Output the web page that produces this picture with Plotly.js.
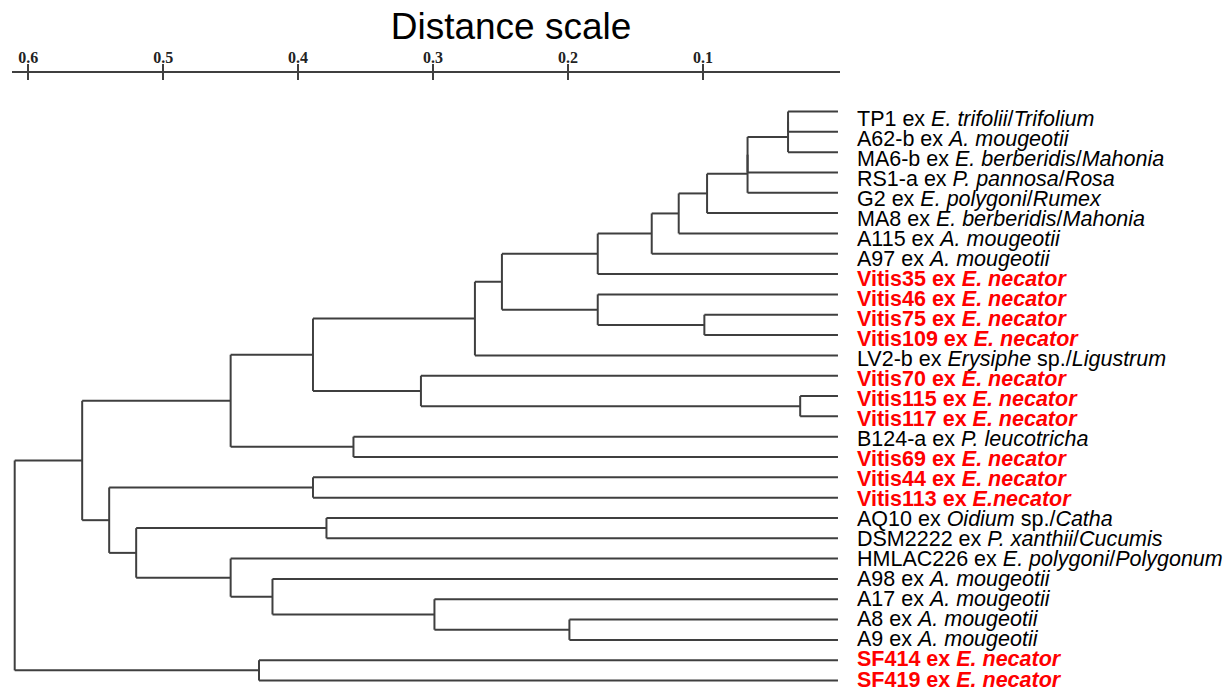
<!DOCTYPE html>
<html>
<head>
<meta charset="utf-8">
<script src="https://cdn.plot.ly/plotly-3.0.1.min.js"></script>
<style>
  html, body { margin: 0; padding: 0; background: #fff; }
  #chart { width: 1225px; height: 689px; }
</style>
</head>
<body>
<div id="chart"></div>
<script>
// ---- Data ----
const leafNames = [
  "TP1 ex <i>E. trifolii</i>/<i>Trifolium</i>",
  "A62-b ex <i>A. mougeotii</i>",
  "MA6-b ex <i>E. berberidis</i>/<i>Mahonia</i>",
  "RS1-a ex <i>P. pannosa</i>/<i>Rosa</i>",
  "G2 ex <i>E. polygoni</i>/<i>Rumex</i>",
  "MA8 ex <i>E. berberidis</i>/<i>Mahonia</i>",
  "A115 ex <i>A. mougeotii</i>",
  "A97 ex <i>A. mougeotii</i>",
  "Vitis35 ex <i>E. necator</i>",
  "Vitis46 ex <i>E. necator</i>",
  "Vitis75 ex <i>E. necator</i>",
  "Vitis109 ex <i>E. necator</i>",
  "LV2-b ex <i>Erysiphe</i> sp./<i>Ligustrum</i>",
  "Vitis70 ex <i>E. necator</i>",
  "Vitis115 ex <i>E. necator</i>",
  "Vitis117 ex <i>E. necator</i>",
  "B124-a ex <i>P. leucotricha</i>",
  "Vitis69 ex <i>E. necator</i>",
  "Vitis44 ex <i>E. necator</i>",
  "Vitis113 ex <i>E.necator</i>",
  "AQ10 ex <i>Oidium</i> sp./<i>Catha</i>",
  "DSM2222 ex <i>P. xanthii</i>/<i>Cucumis</i>",
  "HMLAC226 ex <i>E. polygoni</i>/<i>Polygonum</i>",
  "A98 ex <i>A. mougeotii</i>",
  "A17 ex <i>A. mougeotii</i>",
  "A8 ex <i>A. mougeotii</i>",
  "A9 ex <i>A. mougeotii</i>",
  "SF414 ex <i>E. necator</i>",
  "SF419 ex <i>E. necator</i>"
];

// Merge table: node id = number of leaves + merge index
const mergeLeft   = [0, 29, 30, 31, 32, 33, 34, 35, 10,  9, 36, 39, 14, 13, 40, 16, 43, 18, 20, 25, 24, 23, 22, 47, 46, 45, 27, 54];
const mergeRight  = [1,  2,  3,  4,  5,  6,  7,  8, 11, 37, 38, 12, 15, 41, 42, 17, 44, 19, 21, 26, 48, 49, 50, 51, 52, 53, 28, 55];
const mergeHeight = [0.037, 0.037, 0.067, 0.067, 0.097, 0.118, 0.138, 0.178, 0.099, 0.178, 0.249, 0.269,
                     0.028, 0.309, 0.389, 0.359, 0.450, 0.389, 0.379, 0.199, 0.299, 0.419, 0.450, 0.520,
                     0.540, 0.560, 0.429, 0.610];

const tickValues = [0.6, 0.5, 0.4, 0.3, 0.2, 0.1];
const tickLabels = ["0.6", "0.5", "0.4", "0.3", "0.2", "0.1"];

// ---- Build dendrogram path ----
const nodeH = leafNames.map(() => 0);
const nodeY = leafNames.map((_, i) => i);
const px = [], py = [];
mergeLeft.forEach((a, k) => {
  const b = mergeRight[k];
  const h = mergeHeight[k];
  const y = (nodeY[a] + nodeY[b]) / 2;
  px.push(nodeH[a], h, null); py.push(nodeY[a], nodeY[a], null);
  px.push(nodeH[b], h, null); py.push(nodeY[b], nodeY[b], null);
  px.push(h, h, null); py.push(nodeY[a], nodeY[b], null);
  nodeH.push(h); nodeY.push(y);
});

const treeTrace = {
  x: px, y: py, type: 'scatter', mode: 'lines',
  line: { color: '#3f3f3f', width: 2 },
  hoverinfo: 'skip', showlegend: false, connectgaps: false
};
const dummyTrace = {
  x: [0.3], y: [0], xaxis: 'x2', type: 'scatter', mode: 'none',
  hoverinfo: 'skip', showlegend: false
};

const nLeaves = leafNames.length;
const annotations = leafNames.map((name, i) => {
  const highlighted = name.indexOf('necator') >= 0;
  return {
    x: 0, y: i, xref: 'x', yref: 'y',
    text: highlighted ? '<b>' + name + '</b>' : name,
    showarrow: false, xanchor: 'left', yanchor: 'middle',
    xshift: 17, yshift: -(7 - 8 * i / (nLeaves - 1)),
    font: { family: 'Liberation Sans, Arial, sans-serif', size: 21.5, color: highlighted ? '#ff0000' : '#000000' }
  };
});

const layout = {
  width: 1225, height: 689,
  margin: { l: 12, r: 385, t: 73, b: 4, pad: 0 },
  paper_bgcolor: '#ffffff', plot_bgcolor: '#ffffff',
  title: {
    text: 'Distance scale',
    font: { family: 'Liberation Sans, Arial, sans-serif', size: 37, color: '#000' },
    x: 511 / 1225, xref: 'container', xanchor: 'center',
    y: 1 - 26 / 689, yref: 'container', yanchor: 'middle'
  },
  xaxis: {
    side: 'top', range: [0.612, -0.0015], showgrid: false, zeroline: false,
    showline: true, linecolor: '#3f3f3f', linewidth: 2,
    ticks: 'outside', ticklen: 7, tickwidth: 1.5, tickcolor: '#3f3f3f',
    tickvals: tickValues, showticklabels: false,
    fixedrange: true
  },
  xaxis2: {
    overlaying: 'x', side: 'top', matches: 'x', range: [0.612, -0.0015],
    showgrid: false, zeroline: false, showline: false,
    ticks: 'inside', ticklen: 7, tickwidth: 1.5, tickcolor: '#3f3f3f',
    tickvals: tickValues, ticktext: tickLabels, showticklabels: true,
    ticklabelstandoff: 6,
    tickfont: { family: 'Liberation Serif, Times New Roman, serif', size: 16, color: '#222', weight: 'bold' }
  },
  yaxis: {
    range: [28.22, -1.895], showgrid: false, zeroline: false, showline: false,
    showticklabels: false, ticks: '', fixedrange: true
  },
  annotations: annotations,
  showlegend: false
};

Plotly.newPlot('chart', [treeTrace, dummyTrace], layout, { staticPlot: true, displayModeBar: false });
</script>
</body>
</html>
